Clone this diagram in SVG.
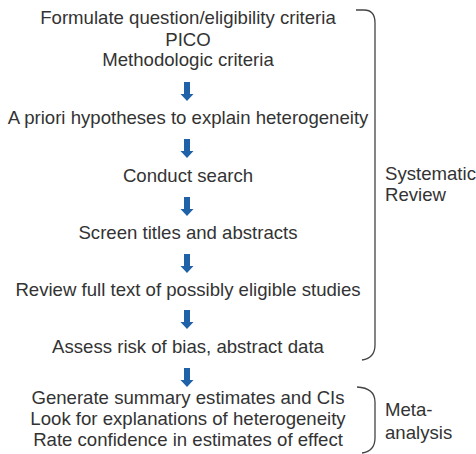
<svg xmlns="http://www.w3.org/2000/svg" width="476" height="454" viewBox="0 0 476 454">
<style>
text{font-family:"Liberation Sans",Arial,sans-serif;font-size:18.6px;fill:#333}
.c{text-anchor:middle}
.arr{fill:#1f62a8}
.br{fill:none;stroke:#444;stroke-width:1.3}
</style>
<defs>
<path id="a" class="arr" d="M-3,0 H3 V12 H6.5 L0,19 L-6.5,12 H-3 Z"/>
</defs>
<rect width="476" height="454" fill="#fff"/>
<g id="n1"><text class="c" x="188" y="24">Formulate question/eligibility criteria</text><text class="c" x="188" y="46">PICO</text><text class="c" x="188" y="66">Methodologic criteria</text></g>
<g id="n2"><text class="c" x="188" y="124">A priori hypotheses to explain heterogeneity</text></g>
<g id="n3"><text class="c" x="188" y="182">Conduct search</text></g>
<g id="n4"><text class="c" x="188" y="239">Screen titles and abstracts</text></g>
<g id="n5"><text class="c" x="188" y="296">Review full text of possibly eligible studies</text></g>
<g id="n6"><text class="c" x="188" y="353">Assess risk of bias, abstract data</text></g>
<g id="n7"><text class="c" x="188" y="404">Generate summary estimates and CIs</text><text class="c" x="188" y="425">Look for explanations of heterogeneity</text><text class="c" x="188" y="446">Rate confidence in estimates of effect</text></g>
<g id="connectors">
<use href="#a" x="187" y="82"/>
<use href="#a" x="187" y="139"/>
<use href="#a" x="187" y="197"/>
<use href="#a" x="187" y="254"/>
<use href="#a" x="187" y="310"/>
<use href="#a" x="187" y="368"/>
</g>
<g id="sr"><path class="br" d="M356,10 H364 Q375,10 375,23 V345 Q375,358 362,360"/><text x="385" y="180">Systematic</text><text x="385" y="201">Review</text></g>
<g id="ma"><path class="br" d="M357,387 Q375,388 375,402 V438 Q375,451 362,453"/><text x="385" y="416">Meta-</text><text x="385" y="439">analysis</text></g>
</svg>
